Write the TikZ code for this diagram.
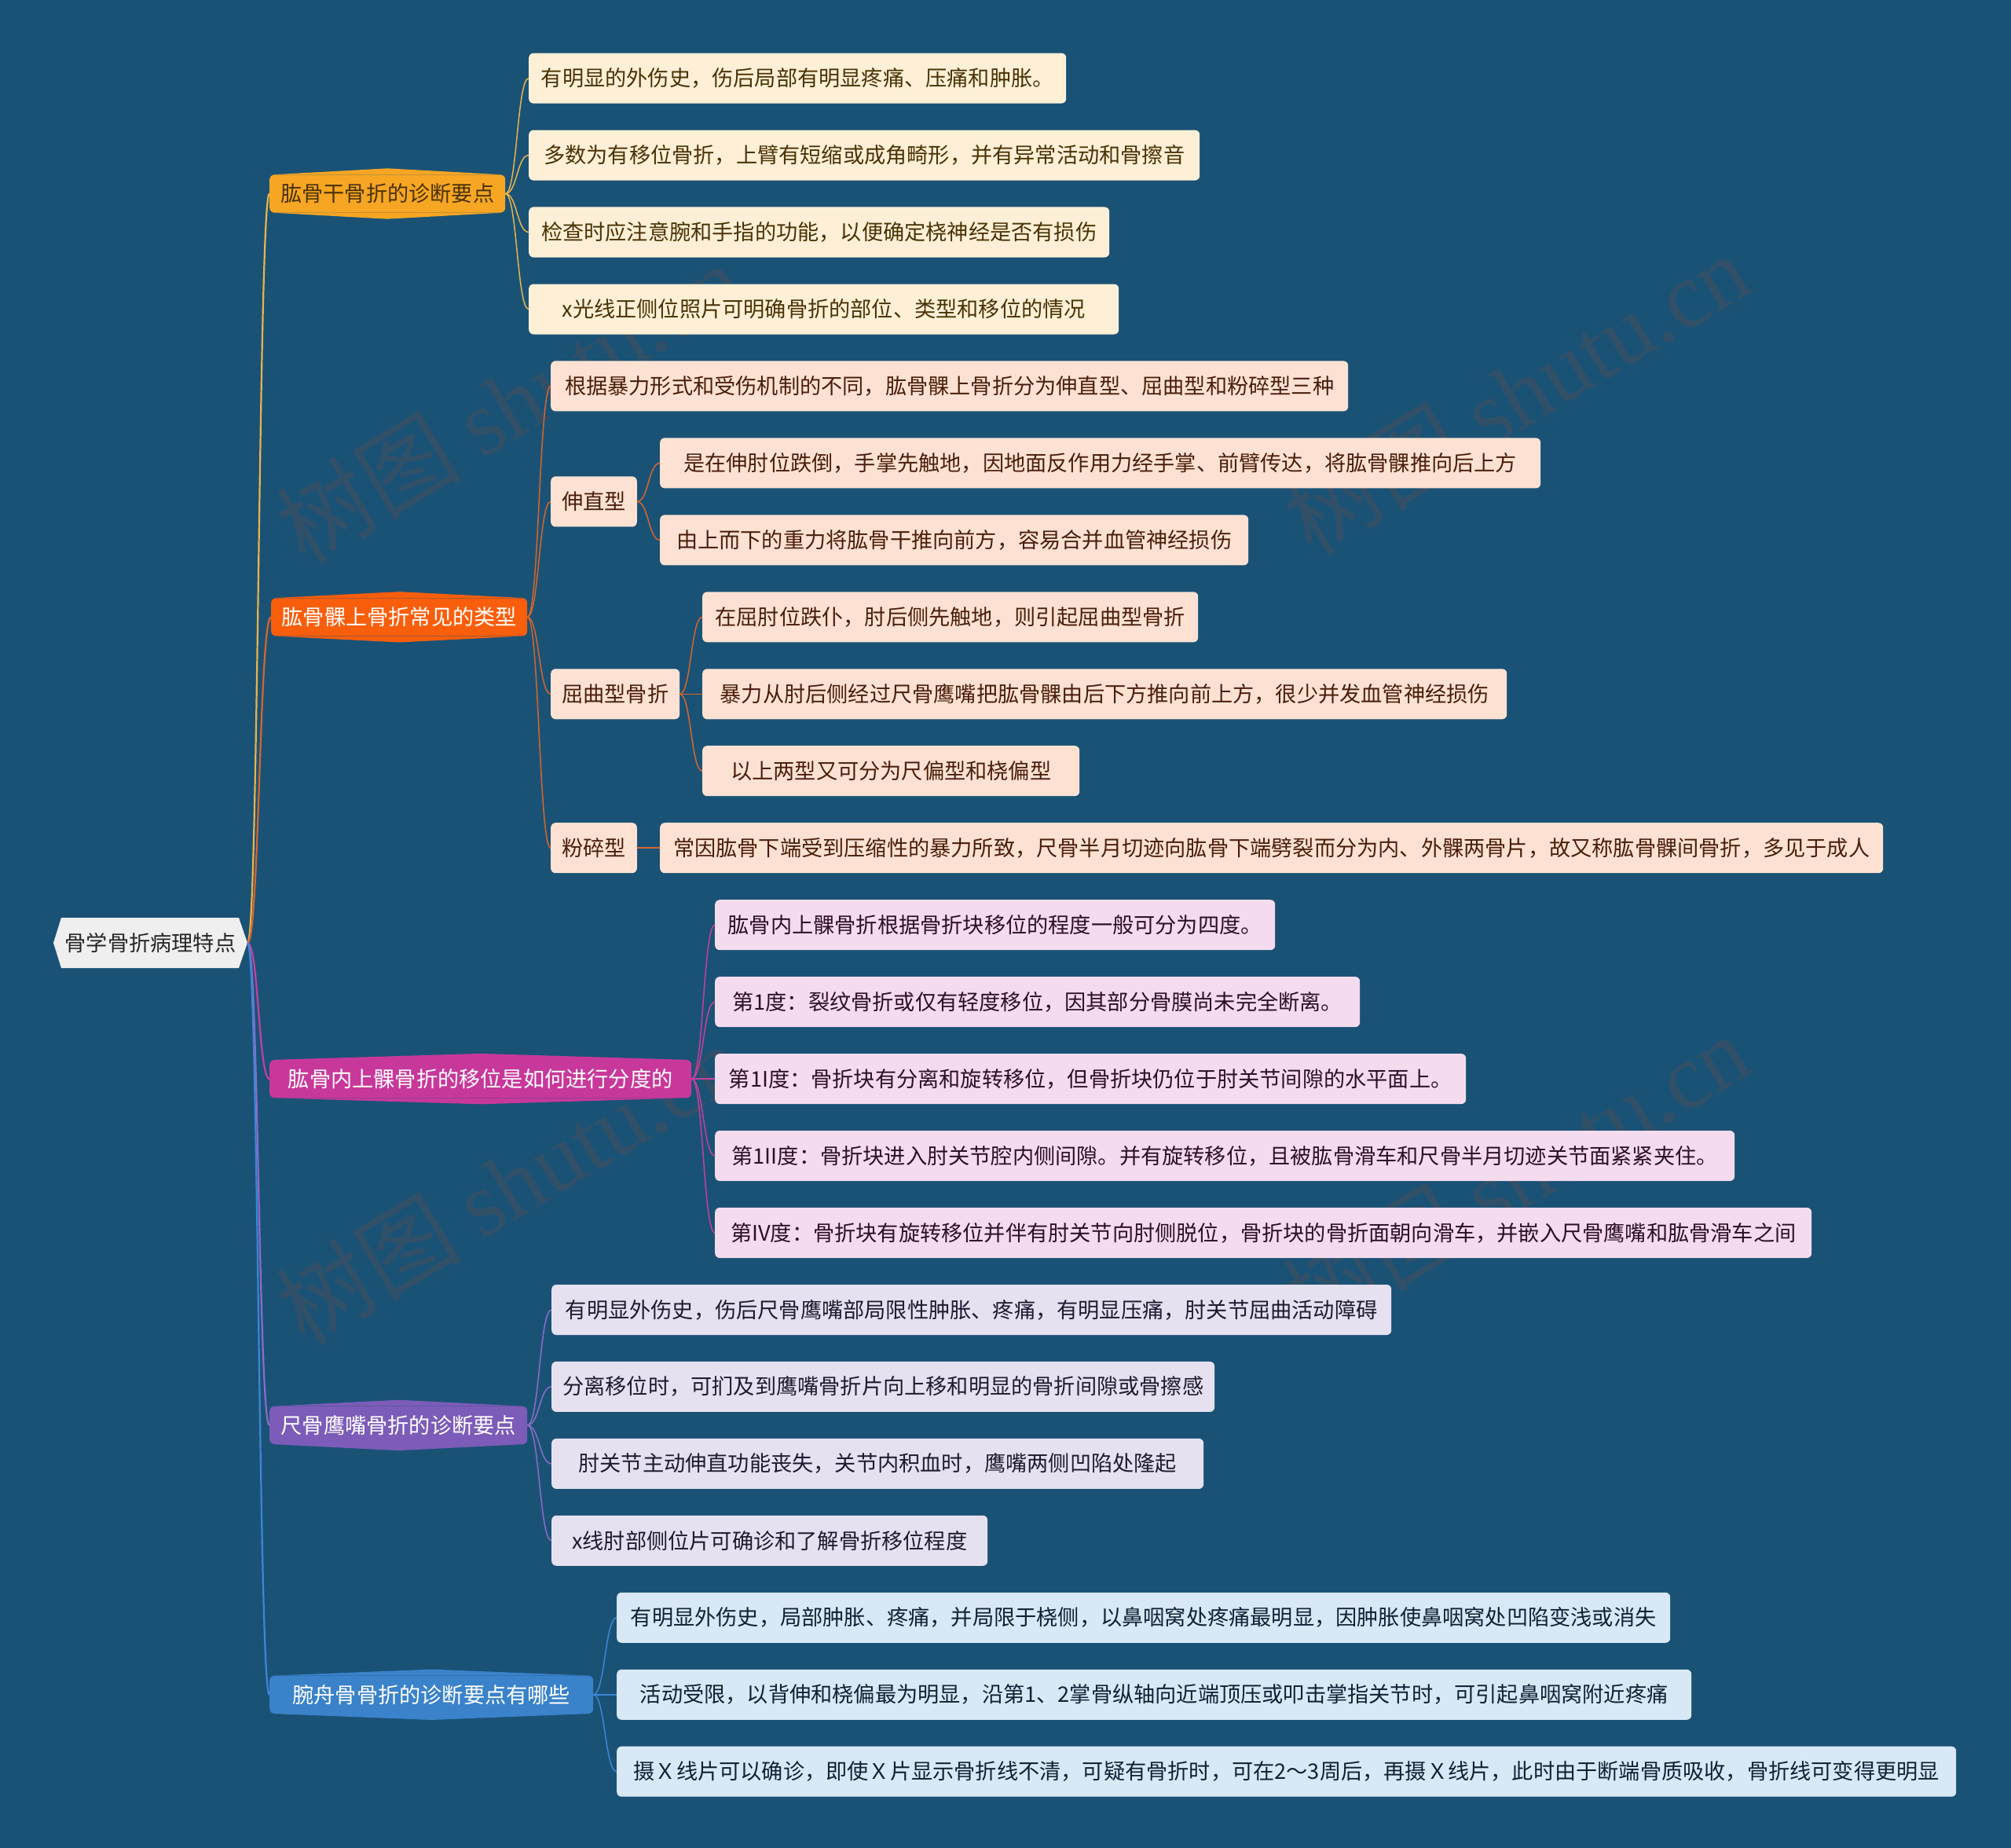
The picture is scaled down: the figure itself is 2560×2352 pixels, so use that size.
\documentclass[tikz,border=0pt]{standalone}
\usepackage{fontspec}
\setmainfont{Noto Sans CJK SC}
\newfontfamily\wmserif{Liberation Serif}
\usetikzlibrary{calc}
\definecolor{bg}{HTML}{1A5276}
\definecolor{rootfill}{HTML}{EFEFEF}
\definecolor{bA}{HTML}{F6A623}
\definecolor{bB}{HTML}{F95E0C}
\definecolor{bC}{HTML}{C8389B}
\definecolor{bD}{HTML}{7C5CB8}
\definecolor{bE}{HTML}{3A82CA}
\definecolor{cA}{HTML}{FDF0D6}
\definecolor{cB}{HTML}{FDE2D3}
\definecolor{cC}{HTML}{F4DCEE}
\definecolor{cD}{HTML}{E6E1F0}
\definecolor{cE}{HTML}{D9E8F5}
\definecolor{tA}{HTML}{4A3205}
\definecolor{tB}{HTML}{4A1E0A}
\definecolor{tC}{HTML}{2E0E28}
\definecolor{tD}{HTML}{1E1A30}
\definecolor{tE}{HTML}{0E2234}
\definecolor{lA}{HTML}{E8B44A}
\definecolor{lB}{HTML}{D6652C}
\definecolor{lC}{HTML}{C4409E}
\definecolor{lD}{HTML}{8C6CC6}
\definecolor{lE}{HTML}{3D86D6}
\definecolor{wmcol}{RGB}{72,80,90}
\newcommand\mmlink[3]{\draw[#1] (#2) .. controls ($(#2)!0.5!(#2 -| #3)$) and ($(#3)!0.5!(#3 -| #2)$) .. (#3);}
\newcommand\mmpeaks[2]{%
  \fill[#2] ($(#1.north west)+(4,0)$) -- ($(#1.north)+(0,-8)$) -- ($(#1.north east)+(-4,0)$) -- cycle;
  \fill[#2] ($(#1.south west)+(4,0)$) -- ($(#1.south)+(0,8)$) -- ($(#1.south east)+(-4,0)$) -- cycle;}
\begin{document}
\begin{tikzpicture}[x=1pt,y=-1pt,
  every node/.style={font=\fontsize{27.2}{32}\selectfont},
  wm/.style={text=wmcol, opacity=0.5, font=\fontsize{118}{130}\selectfont, anchor=center},
  branchbox/.style={rounded corners=6pt, minimum height=48, inner xsep=8pt, inner ysep=0pt, anchor=west},
  childbox/.style={rounded corners=6pt, minimum height=64, inner xsep=14pt, inner ysep=0pt, anchor=west, align=center},
  kA/.style={childbox, fill=cA, text=tA},
  kB/.style={childbox, fill=cB, text=tB},
  kC/.style={childbox, fill=cC, text=tC},
  kD/.style={childbox, fill=cD, text=tD},
  kE/.style={childbox, fill=cE, text=tE},
  mainline/.style={line width=2.2pt},
  subline/.style={line width=1.5pt}]
\fill[bg] (0,0) rectangle (2560,2352);
\useasboundingbox (0,0) rectangle (2560,2352);

% watermarks
\node[wm, rotate=31] (wm1) at (648,512) {树图 {\wmserif shutu.cn}};
\node[wm, rotate=31] (wm2) at (1930,500) {树图 {\wmserif shutu.cn}};
\node[wm, rotate=31] (wm3) at (648,1506) {树图 {\wmserif shutu.cn}};
\node[wm, rotate=31] (wm4) at (1930,1494) {树图 {\wmserif shutu.cn}};

% root
\fill[rootfill] (68,1200) -- (78,1168) -- (304,1168) -- (315,1200) -- (304,1232) -- (78,1232) -- cycle;
\node[minimum width=247, minimum height=64, inner sep=0pt, text=black!85] (root) at (191.5,1200) {骨学骨折病理特点};

% branches
\node[branchbox, fill=bA, text=tA, minimum width=300] (b1) at (343,246.5) {肱骨干骨折的诊断要点};
\mmpeaks{b1}{bA}
\node[branchbox, fill=bB, text=white, minimum width=326] (b2) at (345,785.3) {肱骨髁上骨折常见的类型};
\mmpeaks{b2}{bB}
\node[branchbox, fill=bC, text=white, minimum width=537] (b3) at (343,1373.1) {肱骨内上髁骨折的移位是如何进行分度的};
\mmpeaks{b3}{bC}
\node[branchbox, fill=bD, text=white, minimum width=328] (b4) at (343,1813.9) {尺骨鹰嘴骨折的诊断要点};
\mmpeaks{b4}{bD}
\node[branchbox, fill=bE, text=white, minimum width=412] (b5) at (343,2156.8) {腕舟骨骨折的诊断要点有哪些};
\mmpeaks{b5}{bE}

% branch 1 children
\node[kA, minimum width=684] (c11) at (673,99.6) {有明显的外伤史，伤后局部有明显疼痛、压痛和肿胀。};
\node[kA, minimum width=854] (c12) at (673,197.6) {多数为有移位骨折，上臂有短缩或成角畸形，并有异常活动和骨擦音};
\node[kA, minimum width=739] (c13) at (673,295.5) {检查时应注意腕和手指的功能，以便确定桡神经是否有损伤};
\node[kA, minimum width=751] (c14) at (673,393.5) {x光线正侧位照片可明确骨折的部位、类型和移位的情况};

% branch 2 children
\node[kB, minimum width=1015] (c21) at (701,491.4) {根据暴力形式和受伤机制的不同，肱骨髁上骨折分为伸直型、屈曲型和粉碎型三种};
\node[kB, minimum width=108] (s1) at (701,638.4) {伸直型};
\node[kB, minimum width=1121] (s11) at (840,589.4) {是在伸肘位跌倒，手掌先触地，因地面反作用力经手掌、前臂传达，将肱骨髁推向后上方};
\node[kB, minimum width=749] (s12) at (840,687.4) {由上而下的重力将肱骨干推向前方，容易合并血管神经损伤};
\node[kB, minimum width=163] (s2) at (701,883.3) {屈曲型骨折};
\node[kB, minimum width=631] (s21) at (894,785.3) {在屈肘位跌仆，肘后侧先触地，则引起屈曲型骨折};
\node[kB, minimum width=1024] (s22) at (894,883.3) {暴力从肘后侧经过尺骨鹰嘴把肱骨髁由后下方推向前上方，很少并发血管神经损伤};
\node[kB, minimum width=480] (s23) at (894,981.2) {以上两型又可分为尺偏型和桡偏型};
\node[kB, minimum width=108] (s3) at (701,1079.2) {粉碎型};
\node[kB, minimum width=1557] (s31) at (840,1079.2) {常因肱骨下端受到压缩性的暴力所致，尺骨半月切迹向肱骨下端劈裂而分为内、外髁两骨片，故又称肱骨髁间骨折，多见于成人};

% branch 3 children
\node[kC, minimum width=713] (c31) at (910,1177.2) {肱骨内上髁骨折根据骨折块移位的程度一般可分为四度。};
\node[kC, minimum width=821] (c32) at (910,1275.1) {第1度：裂纹骨折或仅有轻度移位，因其部分骨膜尚未完全断离。};
\node[kC, minimum width=956] (c33) at (910,1373.1) {第1I度：骨折块有分离和旋转移位，但骨折块仍位于肘关节间隙的水平面上。};
\node[kC, minimum width=1298] (c34) at (910,1471.0) {第1II度：骨折块进入肘关节腔内侧间隙。并有旋转移位，且被肱骨滑车和尺骨半月切迹关节面紧紧夹住。};
\node[kC, minimum width=1396] (c35) at (910,1569.0) {第IV度：骨折块有旋转移位并伴有肘关节向肘侧脱位，骨折块的骨折面朝向滑车，并嵌入尺骨鹰嘴和肱骨滑车之间};

% branch 4 children
\node[kD, minimum width=1069] (c41) at (702,1667.0) {有明显外伤史，伤后尺骨鹰嘴部局限性肿胀、疼痛，有明显压痛，肘关节屈曲活动障碍};
\node[kD, minimum width=843] (c42) at (702,1764.9) {分离移位时，可扪及到鹰嘴骨折片向上移和明显的骨折间隙或骨擦感};
\node[kD, minimum width=830] (c43) at (702,1862.9) {肘关节主动伸直功能丧失，关节内积血时，鹰嘴两侧凹陷处隆起};
\node[kD, minimum width=555] (c44) at (702,1960.8) {x线肘部侧位片可确诊和了解骨折移位程度};

% branch 5 children
\node[kE, minimum width=1341] (c51) at (785,2058.8) {有明显外伤史，局部肿胀、疼痛，并局限于桡侧，以鼻咽窝处疼痛最明显，因肿胀使鼻咽窝处凹陷变浅或消失};
\node[kE, minimum width=1368] (c52) at (785,2156.8) {活动受限，以背伸和桡偏最为明显，沿第1、2掌骨纵轴向近端顶压或叩击掌指关节时，可引起鼻咽窝附近疼痛};
\node[kE, minimum width=1705] (c53) at (785,2254.7) {摄Ｘ线片可以确诊，即使Ｘ片显示骨折线不清，可疑有骨折时，可在2～3周后，再摄Ｘ线片，此时由于断端骨质吸收，骨折线可变得更明显};

% connectors root -> branches
\mmlink{lA, mainline}{root.east}{b1.west}
\mmlink{lB, mainline}{root.east}{b2.west}
\mmlink{lC, mainline}{root.east}{b3.west}
\mmlink{lD, mainline}{root.east}{b4.west}
\mmlink{lE, mainline}{root.east}{b5.west}

% branch 1
\mmlink{lA, subline}{b1.east}{c11.west}
\mmlink{lA, subline}{b1.east}{c12.west}
\mmlink{lA, subline}{b1.east}{c13.west}
\mmlink{lA, subline}{b1.east}{c14.west}
% branch 2
\mmlink{lB, subline}{b2.east}{c21.west}
\mmlink{lB, subline}{b2.east}{s1.west}
\mmlink{lB, subline}{b2.east}{s2.west}
\mmlink{lB, subline}{b2.east}{s3.west}
\mmlink{lB, subline}{s1.east}{s11.west}
\mmlink{lB, subline}{s1.east}{s12.west}
\mmlink{lB, subline}{s2.east}{s21.west}
\mmlink{lB, subline}{s2.east}{s22.west}
\mmlink{lB, subline}{s2.east}{s23.west}
\mmlink{lB, subline}{s3.east}{s31.west}
% branch 3
\mmlink{lC, subline}{b3.east}{c31.west}
\mmlink{lC, subline}{b3.east}{c32.west}
\mmlink{lC, subline}{b3.east}{c33.west}
\mmlink{lC, subline}{b3.east}{c34.west}
\mmlink{lC, subline}{b3.east}{c35.west}
% branch 4
\mmlink{lD, subline}{b4.east}{c41.west}
\mmlink{lD, subline}{b4.east}{c42.west}
\mmlink{lD, subline}{b4.east}{c43.west}
\mmlink{lD, subline}{b4.east}{c44.west}
% branch 5
\mmlink{lE, subline}{b5.east}{c51.west}
\mmlink{lE, subline}{b5.east}{c52.west}
\mmlink{lE, subline}{b5.east}{c53.west}
\end{tikzpicture}
\end{document}
